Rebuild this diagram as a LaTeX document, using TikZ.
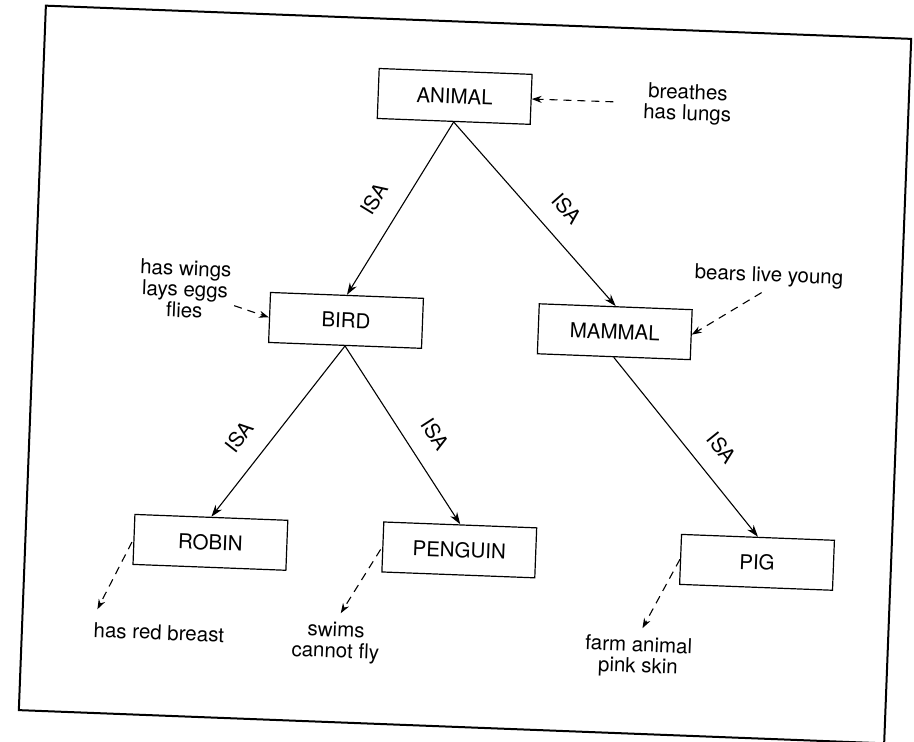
\documentclass[tikz,border=0pt]{standalone}
\usepackage{fontspec}
\setmainfont{TeX Gyre Heros}
\usetikzlibrary{arrows.meta}

\begin{document}
\begin{tikzpicture}[x=1pt, y=-1pt]
  \tikzstyle{concept}=[draw, line width=1.2pt, minimum width=153pt, minimum height=50pt, font=\fontsize{20.5}{22}\selectfont]
  \tikzstyle{fact}=[align=center, inner sep=2pt, font=\fontsize{20.5}{21}\selectfont]
  \tikzstyle{isa}=[line width=1.1pt, -{Stealth[length=12pt, width=8pt]}]
  \tikzstyle{has}=[line width=1.1pt, dash pattern=on 8pt off 6pt, -{Stealth[length=10pt, width=7pt]}]
  \tikzstyle{isalabel}=[sloped, above=17pt, inner sep=2pt, font=\fontsize{20.5}{22}\selectfont]

  \useasboundingbox (0,0) rectangle (914,742);

  \begin{scope}[rotate around={-2.2:(465,375)}, transform shape]
  \draw[line width=2pt] (32,22) rectangle (898,727);

  \node[concept] (animal)  at (444, 97) {ANIMAL};
  \node[concept] (bird)    at (344,325) {BIRD};
  \node[concept] (mammal)  at (613,326) {MAMMAL};
  \node[concept] (robin)   at (217,552) {ROBIN};
  \node[concept] (penguin) at (466,550) {PENGUIN};
  \node[concept] (pig)     at (764,551) {PIG};

  \node[fact] (lungs)  at (677, 96) {breathes\\has lungs};
  \node[fact] (wings)  at (182,300) {has wings\\lays eggs\\flies};
  \node[fact] (young)  at (765,265) {bears live young};
  \node[fact] (breast) at (169,644) {has red breast};
  \node[fact] (swims)  at (346,647) {swims\\cannot fly};
  \node[fact] (farm)   at (649,650) {farm animal\\pink skin};

  \draw[isa] (animal.south) -- node[isalabel, pos=.53] {ISA} (bird.north);
  \draw[isa] (animal.south) -- node[isalabel, pos=.57] {ISA} (mammal.north);
  \draw[isa] (bird.south)   -- node[isalabel, pos=.63] {ISA} (robin.north);
  \draw[isa] (bird.south)   -- node[isalabel, pos=.58] {ISA} (penguin.north);
  \draw[isa] (mammal.south) -- node[isalabel, pos=.6]  {ISA} (pig.north);

  \draw[has, shorten <=28pt] (lungs) -- (animal);
  \draw[has, shorten <=2pt] (wings) -- (bird.west);
  \draw[has, shorten <=8pt] (young.south) -- (mammal.east);
  \draw[has, shorten <=3pt, shorten >=12pt] (robin.west) -- (breast.north west);
  \draw[has, shorten <=3pt, shorten >=8pt] (penguin.west) -- (swims.north);
  \draw[has, shorten >=7pt] (pig.west) -- (farm.north);
  \end{scope}
\end{tikzpicture}
\end{document}
